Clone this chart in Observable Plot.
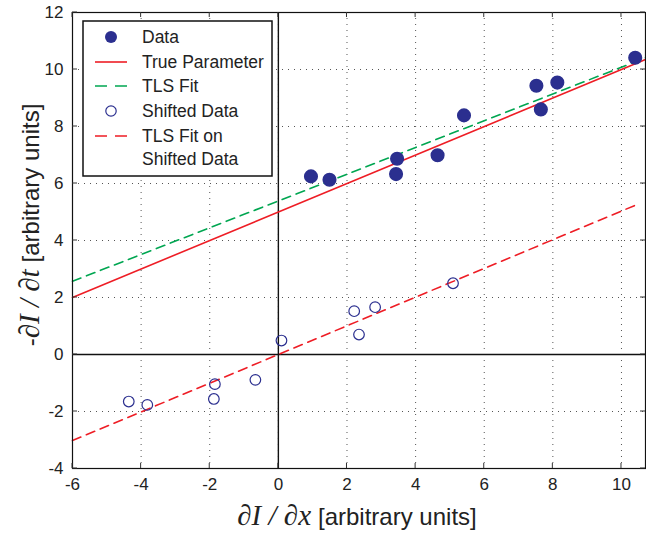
<!DOCTYPE html>
<html>
<head>
<meta charset="utf-8">
<script src="https://cdn.jsdelivr.net/npm/d3@7"></script>
<script src="https://cdn.jsdelivr.net/npm/@observablehq/plot@0.6"></script>
<style>
  body { margin: 0; background: #fff; }
  #chart { position: relative; width: 646px; height: 534px; }
</style>
</head>
<body>
<div id="chart"></div>
<script>
// Observed data
const dataX = [0.95, 1.49, 3.46, 3.43, 4.64, 5.41, 7.52, 7.65, 8.13, 10.40];
const dataY = [6.25, 6.13, 6.87, 6.33, 6.99, 8.39, 9.43, 8.60, 9.54, 10.41];
// Shifted data
const shiftedX = [-4.36, -3.82, -1.85, -1.88, -0.67, 0.09, 2.21, 2.35, 2.82, 5.09];
const shiftedY = [-1.65, -1.77, -1.04, -1.56, -0.89, 0.49, 1.52, 0.70, 1.66, 2.50];
// Line endpoints
const trueX = [-6, 10.7], trueY = [2.0, 10.35];
const tlsX = [-6, 10.7], tlsY = [2.57, 10.41];
const tlsShiftX = [-6, 10.45], tlsShiftY = [-3.02, 5.26];
// Ticks
const xTicks = [-6, -4, -2, 0, 2, 4, 6, 8, 10];
const yTicks = [-4, -2, 0, 2, 4, 6, 8, 10, 12];
// Legend
const legendItems = ["Data", "True Parameter", "TLS Fit", "Shifted Data", "TLS Fit on|Shifted Data"];

const pts = (xs, ys) => xs.map((x, i) => ({x, y: ys[i]}));

const navy = "#2b2f8f", red = "#ee1d25", green = "#00a651";
const fmt = d => String(d);

const plot = Plot.plot({
  width: 646,
  height: 534,
  marginLeft: 72,
  marginRight: 1,
  marginTop: 12,
  marginBottom: 66,
  style: {fontFamily: "Liberation Sans, Arial, sans-serif", fontSize: "17px", color: "#222", background: "#fff"},
  x: {domain: [-6, 10.7], label: null},
  y: {domain: [-4, 12], label: null},
  marks: [
    Plot.gridX(xTicks, {stroke: "#555", strokeOpacity: 1, strokeDasharray: "1,5", strokeWidth: 1}),
    Plot.gridY(yTicks, {stroke: "#555", strokeOpacity: 1, strokeDasharray: "1,5", strokeWidth: 1}),
    Plot.ruleX([0], {stroke: "#111", strokeWidth: 1.4}),
    Plot.ruleY([0], {stroke: "#111", strokeWidth: 1.4}),
    Plot.line(pts(tlsX, tlsY), {x: "x", y: "y", stroke: green, strokeWidth: 1.6, strokeDasharray: "9,6"}),
    Plot.line(pts(trueX, trueY), {x: "x", y: "y", stroke: red, strokeWidth: 1.6}),
    Plot.line(pts(tlsShiftX, tlsShiftY), {x: "x", y: "y", stroke: red, strokeWidth: 1.6, strokeDasharray: "9,6"}),
    Plot.dot(pts(dataX, dataY), {x: "x", y: "y", r: 6.3, fill: navy, stroke: navy}),
    Plot.dot(pts(shiftedX, shiftedY), {x: "x", y: "y", r: 5.3, fill: "none", stroke: navy, strokeWidth: 1.2}),
    Plot.frame({stroke: "#111", strokeWidth: 1.2}),
    Plot.axisX(xTicks, {tickSize: 0, tickPadding: 9, fontSize: 17, tickFormat: fmt, label: null}),
    Plot.axisY(yTicks, {tickSize: 0, tickPadding: 9, fontSize: 17, tickFormat: fmt, label: null})
  ]
});

document.getElementById("chart").appendChild(plot);

const svg = d3.select(plot);
const sx = plot.scale("x"), sy = plot.scale("y");
const [xL, xR] = sx.range, [yB, yT] = sy.range;

// Inward tick marks on all four sides (MATLAB style)
const tk = svg.append("g").attr("stroke", "#333").attr("stroke-width", 1);
xTicks.forEach(v => {
  const px = sx.apply(v);
  tk.append("line").attr("x1", px).attr("x2", px).attr("y1", yB).attr("y2", yB - 5);
  tk.append("line").attr("x1", px).attr("x2", px).attr("y1", yT).attr("y2", yT + 5);
});
yTicks.forEach(v => {
  const py = sy.apply(v);
  tk.append("line").attr("y1", py).attr("y2", py).attr("x1", xL).attr("x2", xL + 5);
  tk.append("line").attr("y1", py).attr("y2", py).attr("x1", xR).attr("x2", xR - 5);
});

const SERIF = "Liberation Serif, Times New Roman, serif";
const SANS = "Liberation Sans, Arial, sans-serif";
// Axis labels with mixed fonts
const xl = svg.append("text").attr("x", 357).attr("y", 525).attr("text-anchor", "middle").attr("fill", "#222");
xl.append("tspan").attr("font-family", SERIF).attr("font-style", "italic").attr("font-size", 29).text("\u2202I / \u2202x");
xl.append("tspan").attr("font-family", SANS).attr("font-size", 24).attr("dx", 7).text("[arbitrary units]");
const yl = svg.append("text").attr("transform", "translate(39,225) rotate(-90)").attr("text-anchor", "middle").attr("fill", "#222");
yl.append("tspan").attr("font-family", SANS).attr("font-size", 24).text("-");
yl.append("tspan").attr("font-family", SERIF).attr("font-style", "italic").attr("font-size", 29).text("\u2202I / \u2202t");
yl.append("tspan").attr("font-family", SANS).attr("font-size", 24).attr("dx", 7).text("[arbitrary units]");

// Legend
const lg = svg.append("g").attr("font-family", SANS).attr("font-size", 17.5).attr("fill", "#222").attr("text-anchor", "start");
lg.append("rect").attr("x", 83).attr("y", 21).attr("width", 189).attr("height", 155).attr("fill", "#fff").attr("stroke", "#111").attr("stroke-width", 1.5);
const rowY = [37, 62, 86, 111, 136];
legendItems.forEach((t, i) => {
  const y = rowY[i];
  const parts = t.split("|");
  parts.forEach((p, j) => {
    lg.append("text").attr("x", 142).attr("y", y + j * 23).attr("dy", "0.36em").attr("text-anchor", "start").text(p);
  });
  if (i === 0) lg.append("circle").attr("cx", 111).attr("cy", y).attr("r", 6).attr("fill", navy);
  if (i === 3) lg.append("circle").attr("cx", 111).attr("cy", y).attr("r", 5.2).attr("fill", "none").attr("stroke", navy).attr("stroke-width", 1.2);
  if (i === 1) lg.append("line").attr("x1", 95).attr("x2", 127).attr("y1", y).attr("y2", y).attr("stroke", red).attr("stroke-width", 1.6);
  if (i === 2) lg.append("line").attr("x1", 95).attr("x2", 127).attr("y1", y).attr("y2", y).attr("stroke", green).attr("stroke-width", 1.6).attr("stroke-dasharray", "12,8");
  if (i === 4) lg.append("line").attr("x1", 95).attr("x2", 127).attr("y1", y).attr("y2", y).attr("stroke", red).attr("stroke-width", 1.6).attr("stroke-dasharray", "12,8");
});
</script>
</body>
</html>
